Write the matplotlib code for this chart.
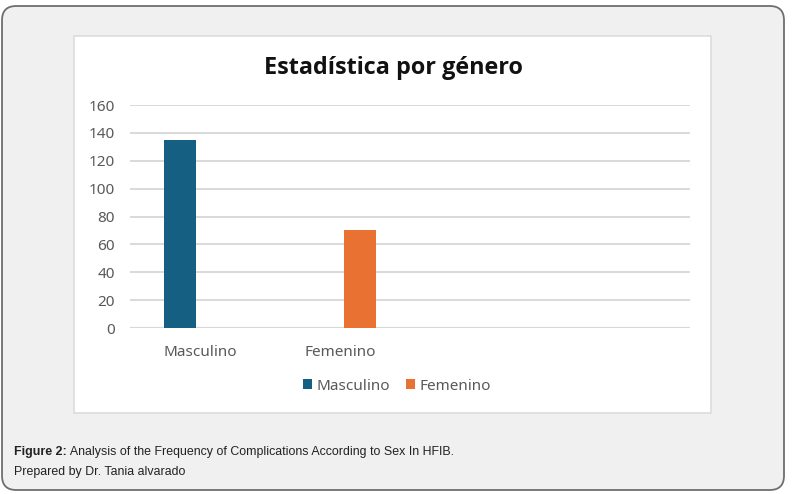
"""
Bar chart: Estadística por género (frequency of complications by sex)
"""

import matplotlib
matplotlib.use("Agg")
import matplotlib.pyplot as plt
from matplotlib.patches import FancyBboxPatch, Rectangle
import numpy as np

# data
categories = ["Masculino", "Femenino"]
series_names = ["Masculino", "Femenino"]
masculino = [135, 0]
femenino = [0, 70]
y_ticks = [0, 20, 40, 60, 80, 100, 120, 140, 160]

title = "Estadística por género"
caption_bold = "Figure 2:"
caption_rest = " Analysis of the Frequency of Complications According to Sex In HFIB."
caption_line2 = "Prepared by Dr. Tania alvarado"

blue = "#156082"
orange = "#E97132"
grey_text = "#595959"
grid_col = "#d9d9d9"

W, H = 792, 494
fig = plt.figure(figsize=(W / 100, H / 100), dpi=100)
fig.patch.set_facecolor("white")


def px_box(x0, y0, x1, y1):
    """pixel box (top-left origin) -> figure fraction [l, b, w, h]"""
    return [x0 / W, 1 - y1 / H, (x1 - x0) / W, (y1 - y0) / H]


# outer rounded panel
l, b, w, h = px_box(2, 6, 784, 490)
outer = FancyBboxPatch((l, b), w, h, boxstyle="round,pad=0,rounding_size=0.018",
                       transform=fig.transFigure, facecolor="#f0f0f0",
                       edgecolor="#6e6e6e", linewidth=1.3, mutation_aspect=W / H,
                       zorder=-2)
fig.patches.append(outer)

# white chart area
l, b, w, h = px_box(74, 36, 711, 413)
fig.patches.append(Rectangle((l, b), w, h, transform=fig.transFigure,
                             facecolor="white", edgecolor="#dcdcdc", linewidth=1.2,
                             zorder=-1))

ax = fig.add_axes(px_box(130, 105, 690, 328))
ax.set_facecolor("none")
ax.set_zorder(1)

x = np.arange(len(categories))
bar_w = 0.225
offset = 0.143
ax.bar(x - offset, masculino, bar_w, color=blue, label=series_names[0], zorder=3)
ax.bar(x + offset, femenino, bar_w, color=orange, label=series_names[1], zorder=3)

ax.set_xlim(-0.5, 3.5)
ax.set_ylim(0, 160)
ax.set_yticks(y_ticks)
ax.set_xticks(x)
ax.set_xticklabels(categories)
ax.yaxis.grid(True, color=grid_col, linewidth=1.4, zorder=0)
ax.set_axisbelow(True)
for s in ax.spines.values():
    s.set_visible(False)
ax.axhline(0, color=grid_col, linewidth=1.6, zorder=1)
ax.tick_params(axis="both", length=0, colors=grey_text, labelsize=11)
ax.tick_params(axis="y", pad=11)
ax.tick_params(axis="x", pad=12, labelsize=11)
for t in ax.get_xticklabels() + ax.get_yticklabels():
    t.set_family("Noto Sans")

fig.text(393 / W, 1 - 68 / H, title, ha="center", va="center",
         fontsize=16.8, fontweight="bold", family="Open Sans", color="#111111")

leg = fig.legend(loc="center", bbox_to_anchor=(397 / W, 1 - 386 / H), ncol=2,
                 frameon=False, fontsize=11, handlelength=0.6, handleheight=0.6,
                 handletextpad=0.3, columnspacing=1.0)
for t in leg.get_texts():
    t.set_color(grey_text)
    t.set_family("Noto Sans")

# caption with bold lead-in
cap_font = ["Liberation Sans Narrow", "Liberation Sans"]
t1 = fig.text(14 / W, 1 - 452 / H, caption_bold, ha="left", va="center",
              fontsize=8.9, fontweight="bold", family=cap_font, color="#222222")
fig.canvas.draw()
bb = t1.get_window_extent(fig.canvas.get_renderer())
fig.text(bb.x1 / W, 1 - 452 / H, caption_rest, ha="left", va="center",
         fontsize=8.9, family=cap_font, color="#222222")
fig.text(14 / W, 1 - 472 / H, caption_line2, ha="left", va="center",
         fontsize=8.9, family=cap_font, color="#222222")

fig.savefig("out.png", dpi=100)
